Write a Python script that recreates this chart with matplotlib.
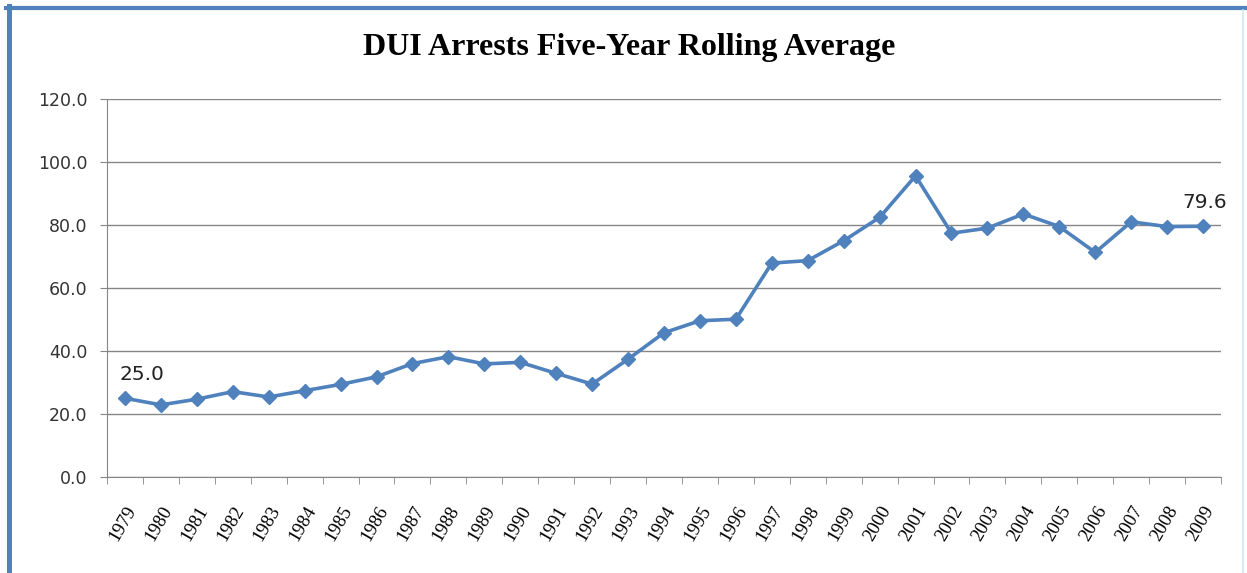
import matplotlib
matplotlib.use("Agg")
import matplotlib.pyplot as plt
from matplotlib.lines import Line2D
from matplotlib.ticker import FixedLocator, NullFormatter
from matplotlib.transforms import ScaledTranslation

years = [str(y) for y in range(1979, 2010)]
rolling_avg = [25.0, 22.9, 24.7, 27.1, 25.4, 27.4, 29.4, 31.8, 36.0, 38.2,
               35.9, 36.4, 32.9, 29.5, 37.4, 45.8, 49.6, 50.1, 67.9, 68.7,
               75.0, 82.4, 95.6, 77.4, 79.0, 83.5, 79.5, 71.3, 81.0, 79.5,
               79.6]
y_ticks = [0, 20, 40, 60, 80, 100, 120]

blue = "#4F81BD"
grid_gray = "#868686"

fig = plt.figure(figsize=(12.47, 5.73), dpi=100)
ax = fig.add_axes([107 / 1247, 96 / 573, 1114 / 1247, 378 / 573])

x = list(range(len(years)))
ax.plot(x, rolling_avg, color=blue, lw=2.6, marker="D", markersize=7.5,
        markeredgecolor=blue, zorder=3, clip_on=False)

# end-point labels
ax.annotate(f"{rolling_avg[0]:.1f}", (x[0], rolling_avg[0]), xytext=(12, 10),
            textcoords="offset points", ha="center", va="bottom",
            fontsize=14.5, color="#222222")
ax.annotate(f"{rolling_avg[-1]:.1f}", (x[-1], rolling_avg[-1]), xytext=(1, 10),
            textcoords="offset points", ha="center", va="bottom",
            fontsize=14.5, color="#222222")

ax.set_xlim(-0.5, len(years) - 0.5)
ax.set_ylim(0, 120)
ax.set_yticks(y_ticks)
ax.set_yticklabels([f"{v:.1f}" for v in y_ticks], fontsize=12.5, color="#333333")
ax.yaxis.grid(True, color=grid_gray, lw=1)
ax.set_axisbelow(True)

# category labels centred, tick marks between categories
ax.set_xticks(x)
ax.set_xticklabels(years, rotation=60, ha="right", va="top",
                   rotation_mode="anchor", fontsize=13.5,
                   family="Liberation Serif")
shift = ScaledTranslation(-6 / 72, 0, fig.dpi_scale_trans)
for lbl in ax.get_xticklabels():
    lbl.set_transform(lbl.get_transform() + shift)
ax.xaxis.set_minor_locator(FixedLocator([i - 0.5 for i in range(len(years) + 1)]))
ax.xaxis.set_minor_formatter(NullFormatter())
ax.tick_params(axis="x", which="major", length=0, pad=19)
ax.tick_params(axis="x", which="minor", length=5, color=grid_gray)
ax.tick_params(axis="y", length=5, color=grid_gray, pad=9)

for side in ["top", "right"]:
    ax.spines[side].set_visible(False)
for side in ["left", "bottom"]:
    ax.spines[side].set_color(grid_gray)

fig.text(629 / 1247, 1 - 48 / 573, "DUI Arrests Five-Year Rolling Average",
         ha="center", va="center", fontsize=23, fontweight="bold",
         family="Liberation Serif")

# frame lines around the chart
fig.add_artist(Line2D([8.5 / 1247, 8.5 / 1247], [0, 1 - 6 / 573],
                      transform=fig.transFigure, color=blue, lw=3.6))
fig.add_artist(Line2D([6 / 1247, 1], [1 - 8 / 573, 1 - 8 / 573],
                      transform=fig.transFigure, color=blue, lw=3.0))
fig.add_artist(Line2D([1243 / 1247, 1243 / 1247], [0, 1 - 10 / 573],
                      transform=fig.transFigure, color="#CDE6F0", lw=1.2))

fig.savefig("out.png", dpi=100)
